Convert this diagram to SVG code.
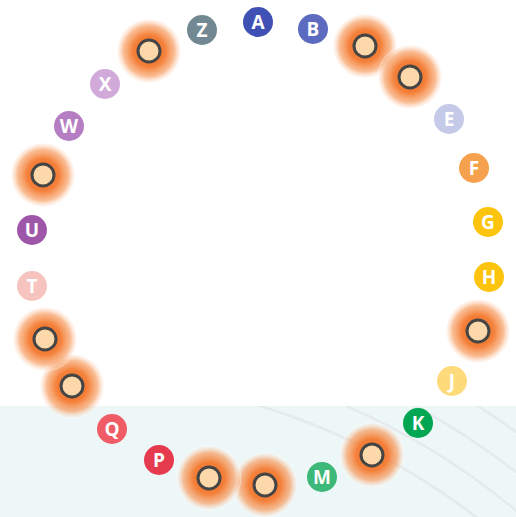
<svg xmlns="http://www.w3.org/2000/svg" width="516" height="517" viewBox="0 0 516 517">
<defs>
<radialGradient id="glow" cx="0.5" cy="0.5" r="0.5">
<stop offset="0" stop-color="#f26a1b" stop-opacity="1"/>
<stop offset="0.5" stop-color="#f47a30" stop-opacity="0.95"/>
<stop offset="0.8" stop-color="#f79a5c" stop-opacity="0.65"/>
<stop offset="1" stop-color="#fde2cf" stop-opacity="0.2"/>
</radialGradient>
<clipPath id="band"><rect x="0" y="406" width="516" height="111"/></clipPath>
</defs>
<style>
.lbl{font-family:"Open Sans","Liberation Sans",sans-serif;font-weight:700;font-size:19px;fill:#fff;text-anchor:middle;dominant-baseline:central}
.halo{fill:url(#glow);stroke:#ffffff;stroke-opacity:0.35;stroke-width:1}
.core{fill:#fdd8ab;stroke:#454545;stroke-width:3}
.wave{fill:none;stroke:#e1e6e8;stroke-width:2.5;opacity:0.75}
</style>
<rect x="0" y="406" width="516" height="111" fill="#eef7f8"/>
<g clip-path="url(#band)">
<circle class="wave" cx="60" cy="1060" r="684"/>
<circle class="wave" cx="60" cy="1060" r="714"/>
<circle class="wave" cx="60" cy="1060" r="744"/>
<circle class="wave" cx="60" cy="1060" r="776"/>
<circle class="wave" cx="60" cy="1060" r="806"/>
</g>
<g id="nodes">
<g id="A"><circle cx="258" cy="22" r="15" fill="#3f51b5"/><text class="lbl" x="258" y="22">A</text></g>
<g id="B"><circle cx="313" cy="29" r="15" fill="#5c6bc0"/><text class="lbl" x="313" y="29">B</text></g>
<g id="C"><circle class="halo" cx="365" cy="46" r="32"/><circle class="core" cx="365" cy="46" r="11"/></g>
<g id="D"><circle class="halo" cx="410" cy="77" r="32"/><circle class="core" cx="410" cy="77" r="11"/></g>
<g id="E"><circle cx="449" cy="119" r="15" fill="#c5cae9"/><text class="lbl" x="449" y="119">E</text></g>
<g id="F"><circle cx="474" cy="168" r="15" fill="#f6a14d"/><text class="lbl" x="474" y="168">F</text></g>
<g id="G"><circle cx="488" cy="222" r="15" fill="#fcc40c"/><text class="lbl" x="488" y="222">G</text></g>
<g id="H"><circle cx="489" cy="277" r="15" fill="#fcc40c"/><text class="lbl" x="489" y="277">H</text></g>
<g id="I"><circle class="halo" cx="478" cy="331" r="32"/><circle class="core" cx="478" cy="331" r="11"/></g>
<g id="J"><circle cx="452" cy="381" r="15" fill="#fddb7b"/><text class="lbl" x="452" y="381">J</text></g>
<g id="K"><circle cx="418" cy="423" r="15" fill="#00a651"/><text class="lbl" x="418" y="423">K</text></g>
<g id="L"><circle class="halo" cx="372" cy="455" r="32"/><circle class="core" cx="372" cy="455" r="11"/></g>
<g id="M"><circle cx="322" cy="477" r="15" fill="#3cb878"/><text class="lbl" x="322" y="477">M</text></g>
<g id="N"><circle class="halo" cx="265" cy="485" r="32"/><circle class="core" cx="265" cy="485" r="11"/></g>
<g id="O"><circle class="halo" cx="209" cy="478" r="32"/><circle class="core" cx="209" cy="478" r="11"/></g>
<g id="P"><circle cx="159" cy="460" r="15" fill="#e63a4e"/><text class="lbl" x="159" y="460">P</text></g>
<g id="Q"><circle cx="112" cy="429" r="15" fill="#ef5c66"/><text class="lbl" x="112" y="429">Q</text></g>
<g id="R"><circle class="halo" cx="72" cy="386" r="32"/><circle class="core" cx="72" cy="386" r="11"/></g>
<g id="S"><circle class="halo" cx="45" cy="339" r="32"/><circle class="core" cx="45" cy="339" r="11"/></g>
<g id="T"><circle cx="32" cy="286" r="15" fill="#f7c3be"/><text class="lbl" x="32" y="286">T</text></g>
<g id="U"><circle cx="32" cy="230" r="15" fill="#9e57a8"/><text class="lbl" x="32" y="230">U</text></g>
<g id="V"><circle class="halo" cx="43" cy="175" r="32"/><circle class="core" cx="43" cy="175" r="11"/></g>
<g id="W"><circle cx="69" cy="126" r="15" fill="#b57ec2"/><text class="lbl" x="69" y="126">W</text></g>
<g id="X"><circle cx="105" cy="84" r="15" fill="#d2aad9"/><text class="lbl" x="105" y="84">X</text></g>
<g id="Y"><circle class="halo" cx="149" cy="51" r="32"/><circle class="core" cx="149" cy="51" r="11"/></g>
<g id="Z"><circle cx="202" cy="30" r="15" fill="#728892"/><text class="lbl" x="202" y="30">Z</text></g>
</g>
<g id="connectors"></g>
</svg>
